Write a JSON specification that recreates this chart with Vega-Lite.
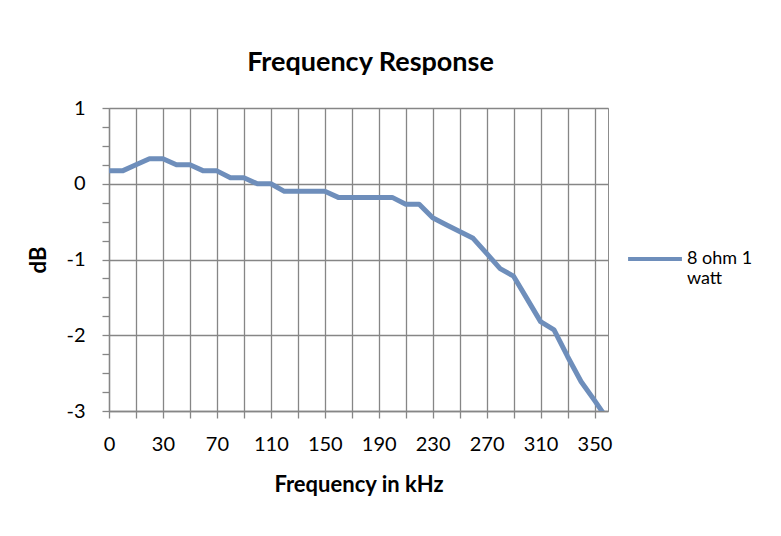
{
  "$schema": "https://vega.github.io/schema/vega-lite/v6.json",
  "autosize": {"type": "none"},
  "padding": {"left": 109, "top": 108, "right": 173, "bottom": 125},
  "width": 499,
  "height": 303,
  "background": "white",
  "title": {
    "text": "Frequency Response",
    "font": "Lato",
    "fontSize": 27,
    "fontWeight": "bold",
    "color": "black",
    "anchor": "middle",
    "dx": 12,
    "offset": 21
  },
  "data": {
    "values": [
      {"f": "0", "db": 0.17, "series": "8 ohm 1 watt"},
      {"f": "5", "db": 0.17, "series": "8 ohm 1 watt"},
      {"f": "10", "db": 0.25, "series": "8 ohm 1 watt"},
      {"f": "20", "db": 0.33, "series": "8 ohm 1 watt"},
      {"f": "30", "db": 0.33, "series": "8 ohm 1 watt"},
      {"f": "40", "db": 0.25, "series": "8 ohm 1 watt"},
      {"f": "50", "db": 0.25, "series": "8 ohm 1 watt"},
      {"f": "60", "db": 0.17, "series": "8 ohm 1 watt"},
      {"f": "70", "db": 0.17, "series": "8 ohm 1 watt"},
      {"f": "80", "db": 0.08, "series": "8 ohm 1 watt"},
      {"f": "90", "db": 0.08, "series": "8 ohm 1 watt"},
      {"f": "100", "db": 0.0, "series": "8 ohm 1 watt"},
      {"f": "110", "db": 0.0, "series": "8 ohm 1 watt"},
      {"f": "120", "db": -0.1, "series": "8 ohm 1 watt"},
      {"f": "130", "db": -0.1, "series": "8 ohm 1 watt"},
      {"f": "140", "db": -0.1, "series": "8 ohm 1 watt"},
      {"f": "150", "db": -0.1, "series": "8 ohm 1 watt"},
      {"f": "160", "db": -0.18, "series": "8 ohm 1 watt"},
      {"f": "170", "db": -0.18, "series": "8 ohm 1 watt"},
      {"f": "180", "db": -0.18, "series": "8 ohm 1 watt"},
      {"f": "190", "db": -0.18, "series": "8 ohm 1 watt"},
      {"f": "200", "db": -0.18, "series": "8 ohm 1 watt"},
      {"f": "210", "db": -0.27, "series": "8 ohm 1 watt"},
      {"f": "220", "db": -0.27, "series": "8 ohm 1 watt"},
      {"f": "230", "db": -0.45, "series": "8 ohm 1 watt"},
      {"f": "240", "db": -0.54, "series": "8 ohm 1 watt"},
      {"f": "250", "db": -0.63, "series": "8 ohm 1 watt"},
      {"f": "260", "db": -0.72, "series": "8 ohm 1 watt"},
      {"f": "270", "db": -0.92, "series": "8 ohm 1 watt"},
      {"f": "280", "db": -1.12, "series": "8 ohm 1 watt"},
      {"f": "290", "db": -1.22, "series": "8 ohm 1 watt"},
      {"f": "300", "db": -1.52, "series": "8 ohm 1 watt"},
      {"f": "310", "db": -1.82, "series": "8 ohm 1 watt"},
      {"f": "320", "db": -1.93, "series": "8 ohm 1 watt"},
      {"f": "330", "db": -2.28, "series": "8 ohm 1 watt"},
      {"f": "340", "db": -2.61, "series": "8 ohm 1 watt"},
      {"f": "350", "db": -2.86, "series": "8 ohm 1 watt"},
      {"f": "360", "db": -3.12, "series": "8 ohm 1 watt"}
    ]
  },
  "mark": {"type": "line", "strokeWidth": 5, "clip": true, "strokeJoin": "round"},
  "encoding": {
    "x": {
      "field": "f",
      "type": "ordinal",
      "sort": null,
      "scale": {"type": "point", "padding": 0},
      "axis": {
        "title": "Frequency in kHz",
        "values": ["0", "10", "30", "50", "70", "90", "110", "130", "150", "170", "190", "210", "230", "250", "270", "290", "310", "330", "350"],
        "labelExpr": "indexof(['0','30','70','110','150','190','230','270','310','350'], datum.label) >= 0 ? datum.label : ''",
        "labelAngle": 0,
        "labelPadding": 16,
        "titlePadding": 20,
        "grid": true,
        "tickSize": 7
      }
    },
    "y": {
      "field": "db",
      "type": "quantitative",
      "scale": {"domain": [-3, 1], "nice": false, "zero": false},
      "axis": {
        "title": "dB",
        "values": [-3, -2.75, -2.5, -2.25, -2, -1.75, -1.5, -1.25, -1, -0.75, -0.5, -0.25, 0, 0.25, 0.5, 0.75, 1],
        "labelExpr": "datum.value % 1 === 0 ? '' + datum.value : ''",
        "gridOpacity": {"condition": {"test": "datum.value % 1 !== 0", "value": 0}, "value": 1},
        "tickSize": 7,
        "labelPadding": 17,
        "titlePadding": 15
      }
    },
    "color": {
      "field": "series",
      "type": "nominal",
      "scale": {"range": ["#6E8EBB"]},
      "legend": {
        "title": null,
        "orient": "none",
        "legendX": 517,
        "legendY": 122,
        "symbolType": "stroke",
        "symbolSize": 2900,
        "symbolStrokeWidth": 4,
        "labelExpr": "['8 ohm 1', 'watt']",
        "labelFont": "Lato",
        "labelFontSize": 18,
        "labelColor": "black",
        "labelLineHeight": 27,
        "labelBaseline": "middle",
        "labelOffset": 3
      }
    }
  },
  "config": {
    "view": {"stroke": "#8c8c8c", "strokeWidth": 1},
    "axis": {
      "labelFont": "Lato",
      "labelFontSize": 20,
      "labelColor": "black",
      "titleFont": "Lato",
      "titleFontSize": 22,
      "titleFontWeight": "bold",
      "titleColor": "black",
      "gridColor": "#868686",
      "gridWidth": 1.3,
      "tickColor": "#868686",
      "tickWidth": 1.3,
      "domainColor": "#868686",
      "domainWidth": 1.3
    }
  }
}
